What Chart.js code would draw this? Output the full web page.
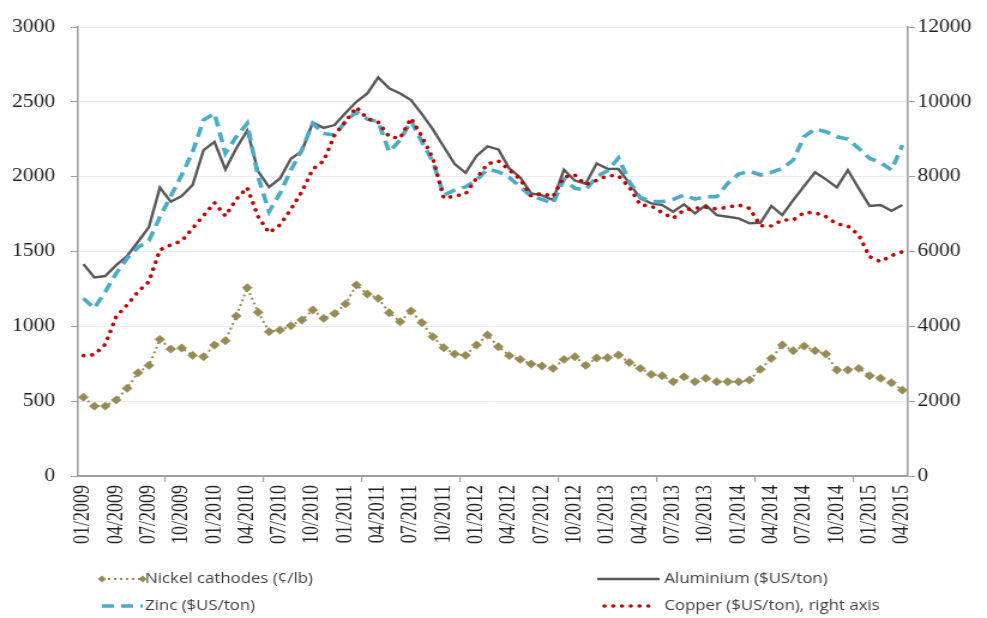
<!DOCTYPE html>
<html><head><meta charset="utf-8">
<script src="https://cdn.jsdelivr.net/npm/chart.js@4.4.1/dist/chart.umd.min.js"></script>
<style>
html,body{margin:0;padding:0;background:#fff;overflow:hidden;}
canvas{display:block;}
#pre{position:absolute;left:-1000px;top:0;}
</style></head><body>
<div id="pre"><span style="font-family:'Liberation Serif';font-size:18px">0123</span><span style="font-family:'Open Sans';font-size:14px">abc</span></div>
<canvas id="c" width="823" height="618" style="width:987px;height:618px;"></canvas>
<script>
const months = [
"01/2009","02/2009","03/2009","04/2009","05/2009","06/2009","07/2009","08/2009","09/2009","10/2009","11/2009","12/2009",
"01/2010","02/2010","03/2010","04/2010","05/2010","06/2010","07/2010","08/2010","09/2010","10/2010","11/2010","12/2010",
"01/2011","02/2011","03/2011","04/2011","05/2011","06/2011","07/2011","08/2011","09/2011","10/2011","11/2011","12/2011",
"01/2012","02/2012","03/2012","04/2012","05/2012","06/2012","07/2012","08/2012","09/2012","10/2012","11/2012","12/2012",
"01/2013","02/2013","03/2013","04/2013","05/2013","06/2013","07/2013","08/2013","09/2013","10/2013","11/2013","12/2013",
"01/2014","02/2014","03/2014","04/2014","05/2014","06/2014","07/2014","08/2014","09/2014","10/2014","11/2014","12/2014",
"01/2015","02/2015","03/2015","04/2015"];

const nickel = [526,467,467,508,586,690,739,913,848,855,806,797,
875,904,1069,1258,1094,964,975,1004,1042,1109,1053,1085,
1150,1276,1216,1187,1091,1031,1102,1024,931,857,815,806,
875,942,864,804,779,748,735,719,779,797,739,788,
790,808,758,719,679,670,630,663,630,653,630,630,
630,641,713,786,875,837,868,837,815,708,708,719,
670,653,623,574];

const aluminium = [1416,1326,1336,1409,1470,1565,1663,1927,1833,1870,1944,2178,
2233,2049,2190,2309,2035,1930,1988,2120,2170,2361,2326,2345,
2426,2500,2556,2663,2590,2556,2512,2418,2316,2200,2084,2026,
2138,2202,2182,2055,1995,1888,1875,1844,2046,1974,1953,2088,
2053,2051,1955,1855,1822,1810,1766,1815,1755,1810,1743,1732,
1721,1688,1692,1804,1743,1844,1937,2029,1982,1929,2044,1922,
1804,1810,1772,1810];

const zinc = [1187,1120,1231,1354,1454,1528,1572,1730,1870,2011,2166,2378,
2423,2156,2267,2356,1999,1766,1888,2044,2178,2356,2289,2278,
2367,2434,2385,2367,2166,2244,2373,2233,2100,1877,1910,1932,
1977,2049,2033,1995,1932,1870,1848,1822,1982,1922,1912,2000,
2040,2125,1966,1862,1833,1833,1848,1877,1850,1866,1866,1955,
2017,2037,2011,2029,2055,2111,2267,2318,2300,2267,2251,2189,
2122,2095,2044,2211];

const copper = [3216,3243,3520,4258,4571,4927,5194,6041,6175,6282,6621,6958,
7305,6950,7396,7707,6931,6503,6709,7129,7600,8200,8420,9115,
9471,9855,9550,9454,9070,9026,9561,9070,8492,7423,7484,7538,
7957,8340,8420,8179,7931,7484,7556,7466,7985,8046,7790,7900,
8030,8019,7717,7244,7217,7038,6888,7110,7155,7182,7137,7182,
7244,7155,6691,6683,6843,6843,7038,7038,6931,6736,6683,6442,
5862,5728,5889,5996];

const leftTicks = [0,500,1000,1500,2000,2500,3000];
const rightTicks = [0,2000,4000,6000,8000,10000,12000];

const seriesNames = ["Nickel cathodes (\u00a2/lb)","Aluminium ($US/ton)","Zinc ($US/ton)","Copper ($US/ton), right axis"];

const C_NI = '#978b55', C_AL = '#595959', C_ZN = '#4bacc6', C_CU = '#c00000';
const AXIS = '#a0a0a0';
const serif = "'Liberation Serif', 'Times New Roman', 'DejaVu Serif', serif";
const legendFont = "14px 'Open Sans', 'Noto Sans', sans-serif";

const legendPlugin = {
  id: 'customLegend',
  afterDraw(chart) {
    const ctx = chart.ctx;
    const ds = chart.data.datasets;
    const items = [
      {d: ds[0], x0: 85, x1: 119, tx: 121, y: 579, kind: 'ni'},
      {d: ds[1], x0: 498, x1: 550, tx: 554, y: 579, kind: 'line'},
      {d: ds[2], x0: 85, x1: 119, tx: 121, y: 606, kind: 'line'},
      {d: ds[3], x0: 504, x1: 547, tx: 554, y: 606, kind: 'line'}
    ];
    ctx.save();
    items.forEach(it => {
      ctx.save();
      ctx.strokeStyle = it.d.borderColor;
      ctx.lineWidth = it.kind === 'ni' ? 2 : it.d.borderWidth;
      ctx.setLineDash(it.d.borderDash || []);
      ctx.lineCap = it.d.borderCapStyle || 'butt';
      ctx.beginPath();
      ctx.moveTo(it.x0, it.y);
      ctx.lineTo(it.x1, it.y);
      ctx.stroke();
      if (it.kind === 'ni') {
        ctx.fillStyle = it.d.pointBackgroundColor;
        [it.x0, it.x1].forEach(px => {
          const r = 3.5;
          ctx.beginPath();
          ctx.moveTo(px, it.y - r); ctx.lineTo(px + r, it.y);
          ctx.lineTo(px, it.y + r); ctx.lineTo(px - r, it.y);
          ctx.closePath(); ctx.fill();
        });
      }
      ctx.restore();
      ctx.font = legendFont;
      ctx.fillStyle = '#404040';
      ctx.textBaseline = 'middle';
      ctx.textAlign = 'left';
      ctx.fillText(it.d.label, it.tx, it.y);
    });
    ctx.restore();
  }
};

function plain(v) { return String(v); }

function build() {
  new Chart(document.getElementById('c'), {
    type: 'line',
    data: {
      labels: months,
      datasets: [
        {label: seriesNames[0], data: nickel, yAxisID: 'y', borderColor: C_NI, borderWidth: 2,
         borderDash: [2, 3], pointStyle: 'rectRot', pointRadius: 4.2, pointBackgroundColor: C_NI,
         pointBorderColor: C_NI, pointBorderWidth: 0.5, tension: 0, order: 4},
        {label: seriesNames[1], data: aluminium, yAxisID: 'y', borderColor: C_AL, borderWidth: 2.4,
         pointRadius: 0, tension: 0, order: 3},
        {label: seriesNames[2], data: zinc, yAxisID: 'y', borderColor: C_ZN, borderWidth: 3.6,
         borderDash: [10, 6], pointRadius: 0, tension: 0, order: 2},
        {label: seriesNames[3], data: copper, yAxisID: 'y1', borderColor: C_CU, borderWidth: 3.6,
         borderDash: [0.1, 7.2], borderCapStyle: 'round', pointRadius: 0, tension: 0, order: 1}
      ]
    },
    options: {
      responsive: false,
      animation: false,
      events: [],
      layout: {padding: {top: 27, left: 0, right: 0, bottom: 72}},
      plugins: {legend: {display: false}, tooltip: {enabled: false}},
      scales: {
        x: {
          type: 'category',
          offset: true,
          grid: {
            offset: true, drawOnChartArea: false, drawTicks: true, tickLength: 6, lineWidth: 1.2,
            tickColor: (c) => (c.index % 3 === 0 ? AXIS : 'rgba(0,0,0,0)')
          },
          border: {display: true, color: AXIS, width: 2},
          ticks: {
            autoSkip: false, maxRotation: 90, minRotation: 90, padding: 3,
            color: '#222', font: {family: serif, size: 18},
            callback: function (v, i) { return i % 3 === 0 ? months[i] : null; }
          },
          afterFit: (s) => { s.height = 70; }
        },
        y: {
          position: 'left', min: 0, max: 3000,
          afterBuildTicks: (s) => { s.ticks = leftTicks.map(v => ({value: v})); },
          grid: {color: '#ececec', lineWidth: 1, tickLength: 6, tickColor: AXIS},
          border: {display: true, color: AXIS, width: 1.6},
          ticks: {padding: 13, color: '#222', font: {family: serif, size: 18}, callback: plain},
          afterFit: (s) => { s.width = 65; }
        },
        y1: {
          position: 'right', min: 0, max: 12000,
          afterBuildTicks: (s) => { s.ticks = rightTicks.map(v => ({value: v})); },
          grid: {drawOnChartArea: false, tickLength: 6, tickColor: AXIS},
          border: {display: true, color: AXIS, width: 1.6},
          ticks: {padding: 2, color: '#222', font: {family: serif, size: 18}, callback: plain},
          afterFit: (s) => { s.width = 66; }
        }
      }
    },
    plugins: [legendPlugin]
  });
}

let built = false;
function go() { if (!built) { built = true; build(); } }
if (document.fonts && document.fonts.load) {
  Promise.all([
    document.fonts.load("18px 'Liberation Serif'"),
    document.fonts.load("14px 'Open Sans'")
  ]).then(go, go);
  setTimeout(go, 1500);
} else {
  go();
}
</script>
</body></html>
